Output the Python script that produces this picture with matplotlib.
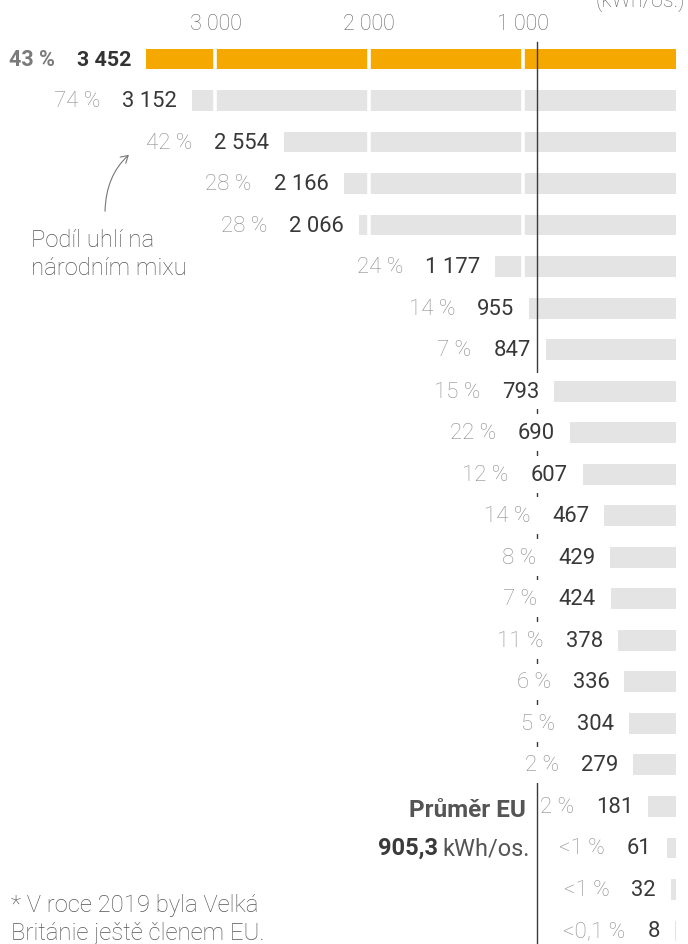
"""Czech chart: coal electricity per capita by EU country (kWh/os.)."""

import matplotlib

matplotlib.use("Agg")
import matplotlib.pyplot as plt
import numpy as np
from matplotlib.patches import FancyArrowPatch, Rectangle
from matplotlib.transforms import Bbox

plt.rcParams["font.family"] = ["Roboto", "DejaVu Sans"]

# data
values = [3452, 3152, 2554, 2166, 2066, 1177, 955, 847, 793, 690, 607,
          467, 429, 424, 378, 336, 304, 279, 181, 61, 32, 8]
value_labels = ["3 452", "3 152", "2 554", "2 166", "2 066", "1 177", "955",
                "847", "793", "690", "607", "467", "429", "424", "378", "336",
                "304", "279", "181", "61", "32", "8"]
coal_share = ["43 %", "74 %", "42 %", "28 %", "28 %", "24 %", "14 %", "7 %",
              "15 %", "22 %", "12 %", "14 %", "8 %", "7 %", "11 %", "6 %",
              "5 %", "2 %", "2 %", "<1 %", "<1 %", "<0,1 %"]
highlight = 0
tick_values = [3000, 2000, 1000]
tick_labels = ["3 000", "2 000", "1 000"]
eu_mean = 905.3

W, H = 688, 944
X0 = 676.0        # pixel of zero
SCALE = 0.1535    # pixels per kWh
ROW0 = 59.0       # pixel centre of first row
STEP = 41.52      # pixels between rows

ORANGE = "#f5a800"
BAR_GREY = "#e4e4e4"
PCT_GREY = "#8c8c8c"
VAL_DARK = "#383838"
TEXT_GREY = "#555555"


def px(x, y):
    """pixel position -> data coords"""
    return (X0 - x) / SCALE, (y - ROW0) / STEP


fig = plt.figure(figsize=(W / 100, H / 100), dpi=100)
ax = fig.add_axes([0, 0, 1, 1])
ax.set_xlim(px(0, 0)[0], px(W, 0)[0])
ax.set_ylim(px(0, H)[1], px(0, 0)[1])
ax.axis("off")

y = np.arange(len(values))
colors = [ORANGE if i == highlight else BAR_GREY for i in y]
ax.barh(y, values, height=0.5, color=colors, zorder=1)

for t in tick_values:
    ax.axvline(t, color="white", linewidth=2.6, zorder=2)

# EU average line
ax.plot([eu_mean, eu_mean], [px(0, 42)[1], px(0, H)[1]],
        color="#3a3a3a", linewidth=1.0, zorder=3)

# tick labels on top
for t, lab in zip(tick_values, tick_labels):
    ax.text(t, px(0, 30)[1], lab, ha="center", va="baseline", fontsize=15.5,
            color="#666666", fontweight="light", zorder=5)
ax.text(*px(685, 7), "(kWh/os.)", ha="right", va="baseline", fontsize=15.5,
        color="#666666", fontweight="light", zorder=5)

# value and share labels
pairs = []
for i, (v, lab, pct) in enumerate(zip(values, value_labels, coal_share)):
    bold = i == highlight
    val = ax.annotate(lab, xy=(v, i), xytext=(-15, -1), textcoords="offset pixels",
                      ha="right", va="center",
                      fontsize=15.4 if bold else 15.8,
                      fontweight="bold" if bold else "normal",
                      color="#333333" if bold else VAL_DARK, zorder=6)
    share = ax.annotate(pct, xy=(0, 0.5), xycoords=val, xytext=(-22, 0),
                        textcoords="offset pixels", ha="right", va="center",
                        fontsize=15.5 if bold else 16,
                        fontweight="bold" if bold else "light",
                        color="#7a7a7a" if bold else PCT_GREY, zorder=6)
    pairs.append((i, val, share))

# annotation
ax.text(*px(31, 275), "Podíl uhlí na\nnárodním mixu", ha="left", va="baseline",
        fontsize=17.2, color=TEXT_GREY, fontweight="light", linespacing=1.27, zorder=6)
arrow = FancyArrowPatch(px(105, 214), px(131, 153),
                        connectionstyle="angle3,angleA=90,angleB=40",
                        arrowstyle="->,head_length=5,head_width=3",
                        color="#777777", linewidth=0.8, zorder=6)
ax.add_patch(arrow)

# EU mean label
ax.text(*px(526, 817), "Průměr EU", ha="right", va="baseline", fontsize=17.5,
        fontweight="bold", color=TEXT_GREY, zorder=6)
unit = ax.text(*px(530, 855), "kWh/os.", ha="right", va="baseline", fontsize=17,
               fontweight="normal", color=TEXT_GREY, zorder=6)
ax.annotate("905,3", xy=(0, 0), xycoords=unit, xytext=(-5, 0),
            textcoords="offset pixels", ha="right", va="bottom", fontsize=17,
            fontweight="bold", color="#3a3a3a", zorder=6)

# footnote
ax.text(*px(11, 940), "* V roce 2019 byla Velká\nBritánie ještě členem EU.",
        ha="left", va="baseline", fontsize=17.2, color=TEXT_GREY,
        fontweight="light", linespacing=1.27, zorder=6)

# white boxes under label pairs so the average line is interrupted
fig.canvas.draw()
renderer = fig.canvas.get_renderer()
inv = ax.transData.inverted()
for i, val, share in pairs:
    bb = Bbox.union([val.get_window_extent(renderer), share.get_window_extent(renderer)])
    x_left, _ = inv.transform((bb.x0 - 1, 0))
    x_right, _ = inv.transform((bb.x1 + 2, 0))
    half = 18.3 / STEP
    ax.add_patch(Rectangle((x_right, i - half), x_left - x_right, 2 * half,
                           facecolor="white", edgecolor="none", zorder=4))

fig.savefig("out.png", dpi=100)
